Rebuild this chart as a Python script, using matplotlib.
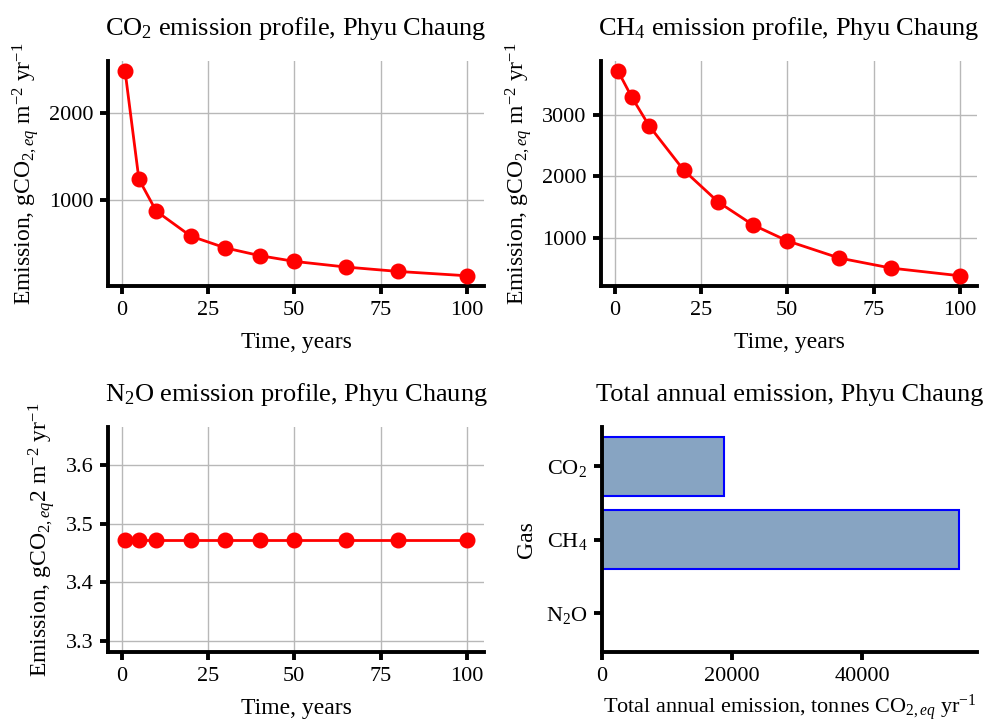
import matplotlib
matplotlib.use("Agg")
import matplotlib.pyplot as plt

plt.rcParams["font.family"] = ["Liberation Serif", "DejaVu Serif"]
plt.rcParams["mathtext.fontset"] = "custom"
plt.rcParams["mathtext.rm"] = "Liberation Serif"
plt.rcParams["mathtext.it"] = "Liberation Serif:italic"
plt.rcParams["font.size"] = 16
plt.rcParams["axes.titlesize"] = 19
plt.rcParams["axes.labelsize"] = 17

# ── Data ──────────────────────────────────────────────────────────────────────
years = [1, 5, 10, 20, 30, 40, 50, 65, 80, 100]
co2 = [2480, 1242, 877, 590, 455, 366, 300, 235, 185, 135]
ch4 = [3710, 3284, 2820, 2098, 1579, 1208, 946, 667, 503, 377]
n2o = [3.473] * len(years)

gases = ["N$_2$O", "CH$_4$", "CO$_2$"]
totals = [70, 54940, 18810]

SITE = "Phyu Chaung"
YLAB = "Emission, gCO$_{2,eq}$ m$^{-2}$ yr$^{-1}$"
YLAB_N2O = "Emission, gCO$_{2,eq}$2 m$^{-2}$ yr$^{-1}$"

W, H = 989, 723
fig = plt.figure(figsize=(W / 100, H / 100), dpi=100)

def box(l, r, t, b):
    return [l / W, (H - b) / H, (r - l) / W, (b - t) / H]

ax_co2 = fig.add_axes(box(108, 484, 61, 286))
ax_ch4 = fig.add_axes(box(601, 977, 61, 286))
ax_n2o = fig.add_axes(box(108, 484, 427, 652))
ax_tot = fig.add_axes(box(602, 977, 427, 652))

def style(ax):
    ax.spines[["top", "right"]].set_visible(False)
    ax.spines[["left", "bottom"]].set_linewidth(2.8)
    ax.tick_params(width=2.8, length=5.5, pad=5)

def profile(ax, y, title, ylab):
    ax.plot(years, y, color="red", lw=2, marker="o", ms=10.5, zorder=3)
    ax.grid(True, color="#b8b8b8", lw=1)
    ax.set_xticks([0, 25, 50, 75, 100])
    ax.set_title(title, pad=19)
    ax.set_xlabel("Time, years", labelpad=9)
    ax.set_ylabel(ylab, labelpad=6)
    style(ax)

profile(ax_co2, co2, f"CO$_2$ emission profile, {SITE}", YLAB)
profile(ax_ch4, ch4, f"CH$_4$ emission profile, {SITE}", YLAB)
profile(ax_n2o, n2o, f"N$_2$O emission profile, {SITE}", YLAB_N2O)
ax_n2o.set_yticks([3.3, 3.4, 3.5, 3.6])

ax_tot.barh(gases, totals, color="#87a4c2", edgecolor="blue", lw=1.5)
ax_tot.set_xticks([0, 20000, 40000])
ax_tot.set_title(f"Total annual emission, {SITE}", pad=19)
ax_tot.set_xlabel("Total annual emission, tonnes CO$_{2,eq}$ yr$^{-1}$",
                  fontsize=16, labelpad=5)
ax_tot.set_ylabel("Gas", labelpad=6)
style(ax_tot)

fig.savefig("out.png", dpi=100)
